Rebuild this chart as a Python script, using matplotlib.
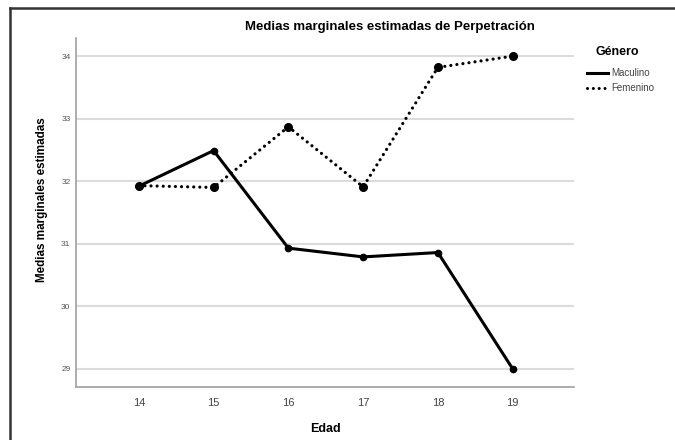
import matplotlib
matplotlib.use("Agg")

import matplotlib.pyplot as plt
from matplotlib.lines import Line2D

# --- datos ---
edad = [14, 15, 16, 17, 18, 19]
masculino = [31.92, 32.49, 30.93, 30.79, 30.86, 29.00]
femenino = [31.93, 31.90, 32.87, 31.91, 33.82, 34.00]
y_ticks = [29, 30, 31, 32, 33, 34]
series_labels = ['Maculino', 'Femenino']

plt.rcParams['font.family'] = ['Liberation Sans', 'DejaVu Sans']

W, H = 675, 440
fig = plt.figure(figsize=(6.75, 4.4), dpi=100)
ax = fig.add_axes([76/W, 1 - 387/H, (574 - 76)/W, (387 - 38)/H])

dotted = (0, (0.01, 1.9))
ax.plot(edad, masculino, color='black', lw=2.2, marker='o', ms=4.5,
        solid_joinstyle='round')
ax.plot(edad, femenino, color='black', lw=2.3, ls=dotted,
        dash_capstyle='round', marker='o', ms=5.5)

ax.set_xlim(13.16, 19.82)
ax.set_ylim(28.71, 34.29)
ax.set_xticks(edad)
ax.set_yticks(y_ticks)
ax.tick_params(axis='x', length=0, labelsize=8, labelcolor='#444444', pad=8)
ax.tick_params(axis='y', length=0, labelsize=6, labelcolor='#555555', pad=4)
ax.grid(axis='y', color='#dcdcdc', lw=1.5)
ax.set_axisbelow(True)
for s in ['top', 'right']:
    ax.spines[s].set_visible(False)
for s in ['left', 'bottom']:
    ax.spines[s].set_color('#a0a0a0')
    ax.spines[s].set_linewidth(1.2)

fig.text(390/W, 1 - 27/H, 'Medias marginales estimadas de Perpetración',
         ha='center', va='center', fontsize=9.5, fontweight='bold')
fig.text(42/W, 1 - 200/H, 'Medias marginales estimadas', rotation=90,
         ha='center', va='center', fontsize=8.4, fontweight='bold')
fig.text(325/W, 1 - 429/H, 'Edad', ha='center', va='center',
         fontsize=9, fontweight='bold')

# leyenda dibujada a mano
fig.text(617/W, 1 - 52/H, 'Género', ha='center', va='center',
         fontsize=9, fontweight='bold')
for i, (lab, st) in enumerate(zip(series_labels, ['-', dotted])):
    yy = 1 - (73 + 15*i)/H
    fig.add_artist(Line2D([587/W, 608/W], [yy, yy], color='black',
                          lw=2.2, ls=st, dash_capstyle='round'))
    fig.text(611/W, yy, lab, ha='left', va='center', fontsize=7,
             color='#444444')

# marco exterior (solo izquierda y arriba visibles)
fig.add_artist(Line2D([10/W, 10/W], [0, 1 - 8/H], color='#333333', lw=1.8))
fig.add_artist(Line2D([10/W, 1], [1 - 8/H, 1 - 8/H], color='#333333', lw=1.8))

fig.savefig('out.png', dpi=100)
